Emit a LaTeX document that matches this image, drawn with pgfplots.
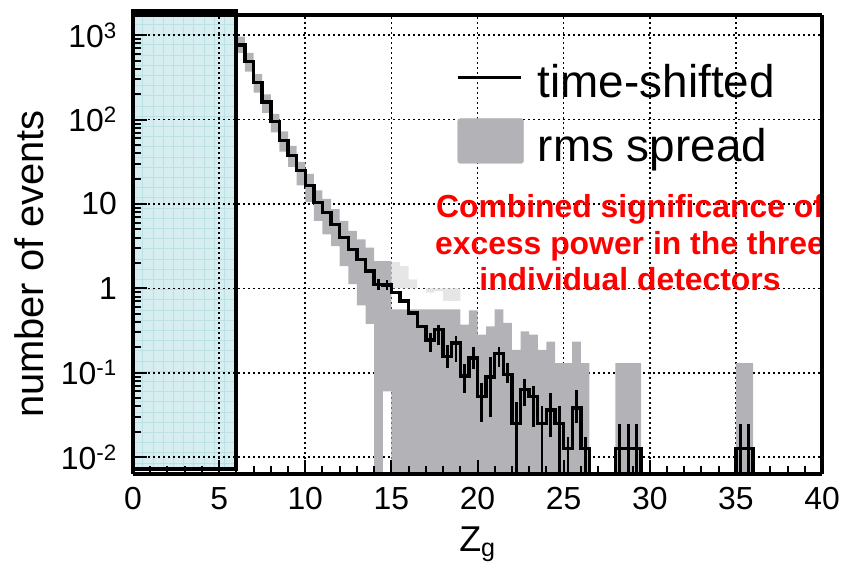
\documentclass[border=0pt]{standalone}
\usepackage{fontspec}
\setmainfont{Liberation Sans}
\usepackage{pgfplots}
\pgfplotsset{compat=1.18}
\usepgfplotslibrary{fillbetween}
\usetikzlibrary{patterns.meta}
\definecolor{BandGrey}{HTML}{B3B2B6}
\definecolor{BandLight}{HTML}{E6E6E6}
\definecolor{BoxCyan}{HTML}{D6EEF0}
\definecolor{BoxLine}{HTML}{BCE0E4}
\definecolor{NoteRed}{HTML}{FF0000}
\pgfplotsset{
  layers/bglayers/.define layer set={axis background,axis grid,pre main,main,axis ticks,axis lines,axis tick labels,axis descriptions,axis foreground}{/pgfplots/layers/standard},
}
\begin{document}
\begin{tikzpicture}
\begin{axis}[
  set layers=bglayers,
  scale only axis, width=689bp, height=459bp,
  ymode=log,
  xmin=0, xmax=40, ymin=0.0063, ymax=1740,
  clip=false,
  xtick={0,5,...,40},
  xticklabels={0,5,10,15,20,25,30,35,40},
  minor x tick num=4,
  ytick={0.01,0.1,1,10,100,1000},
  yticklabels={10\textsuperscript{-2},10\textsuperscript{-1},1,10,10\textsuperscript{2},10\textsuperscript{3}},
  tick align=inside, xtick pos=left, ytick pos=left,
  major tick length=14bp, minor tick length=8bp,
  tick style={black, line width=2bp},
  separate axis lines,
  every outer x axis line/.append style={line width=3.4bp},
  every outer y axis line/.append style={line width=3.4bp},
  grid=major,
  grid style={black, line width=1.7bp, dash pattern=on 1.7bp off 3.3bp},
  tick label style={font=\fontsize{32}{36}\selectfont, inner sep=0pt},
  xticklabel style={anchor=north, yshift=-13bp},
  yticklabel style={anchor=east, xshift=-16bp},
  xlabel={Z\textsubscript{g}},
  xlabel style={at={(rel axis cs:0.5,-0.1699)}, anchor=base, inner sep=0pt, font=\fontsize{36}{40}\selectfont},
  ylabel={number of events},
  ylabel style={at={(rel axis cs:-0.1302,0.4575)}, anchor=base, inner sep=0pt, font=\fontsize{40}{44}\selectfont},
  legend style={at={(rel axis cs:0.4688,0.8924)}, anchor=north west, draw=none, fill=none,
    inner sep=0pt, row sep=19bp, column sep=14bp, font=\fontsize{46}{50}\selectfont, nodes={inner sep=0pt}},
  legend cell align=left,
]
% legend
\addlegendimage{legend image code/.code={\draw[black,line width=3bp] (0bp,4.5bp) -- (63bp,4.5bp);}}
\addlegendentry{time-shifted}
\addlegendimage{legend image code/.code={\fill[BandGrey,rounded corners=3bp] (0bp,-17.65bp) rectangle (66bp,27.35bp);}}
\addlegendentry{rms spread}

% excluded region Z_g < 6: fill under the grid, frame above it
\addplot[draw=none, preaction={fill=BoxCyan},
  pattern={Hatch[distance=10.2bp, line width=0.9bp]}, pattern color=BoxLine,
  on layer=axis background, forget plot]
  coordinates {(0,0.0072) (0,1950) (6,1950) (6,0.0072)} -- cycle;
\addplot[draw=black, line width=4bp, forget plot]
  coordinates {(0,0.0072) (0,1950) (6,1950) (6,0.0072)} -- cycle;

% rms spread band
\addplot[name path=up, draw=none, const plot mark left, forget plot] coordinates {
  (6,966) (6.5,617) (7,347) (7.5,200) (8,117) (8.5,72.4) (9,49) (9.5,31.6) (10,22.7)
  (10.5,14.5) (11,11.5) (11.5,8.7) (12,6.3) (12.5,4.8) (13,3.8) (13.5,3.05) (14,2.11)
  (15,0.562) (19,0.372) (19.5,0.55) (20,0.282) (20.5,0.355) (21,0.562) (21.5,0.389)
  (22,0.186) (22.5,0.309) (23,0.282) (23.5,0.186) (24,0.234) (24.5,0.13) (25.5,0.234)
  (26,0.13) (26.5,0.0063) (28,0.13) (29.5,0.0063) (35,0.13) (36,0.0063)};
\addplot[name path=lo, draw=none, const plot mark left, forget plot] coordinates {
  (6,617) (6.5,372) (7,209) (7.5,120) (8,70.8) (8.5,41.7) (9,27.5) (9.5,16.6) (10,10.5)
  (10.5,6.3) (11,4.37) (11.5,3.16) (12,1.84) (12.5,1.12) (13,0.63) (13.5,0.38)
  (14,0.0063) (14.5,0.06) (15,0.0063) (36,0.0063)};
\addplot[fill=BandLight, draw=none, const plot mark left, on layer=pre main, forget plot] coordinates {
  (15,2.04) (15.5,1.84) (16,1.28) (16.5,1.0) (17,0.89) (17.5,0.93) (18,0.71) (19,0.71)} \closedcycle;
\addplot[fill=BandGrey, draw=none, forget plot] fill between[of=up and lo];

% time-shifted histogram
\addplot[black, line width=3.4bp, const plot mark left, forget plot] coordinates {
  (6,767) (6.5,486) (7,275) (7.5,162) (8,95.5) (8.5,56.2) (9,37.6) (9.5,24.9) (10,16.5)
  (10.5,10.5) (11,7.94) (11.5,5.75) (12,3.98) (12.5,2.91) (13,2.21) (13.5,1.61) (14,1.12)
  (14.5,1.09) (15,0.89) (15.5,0.71) (16,0.51) (16.5,0.355) (17,0.245) (17.5,0.324)
  (18,0.155) (18.5,0.224) (19,0.091) (19.5,0.15) (20,0.052) (20.5,0.089) (21,0.17)
  (21.5,0.095) (22,0.025) (22.5,0.063) (23,0.052) (23.5,0.025) (24,0.036) (24.5,0.025)
  (25,0.0126) (25.5,0.038) (26,0.0126) (26.5,0.0063) (28,0.0127) (29.5,0.0063)
  (35,0.0127) (36,0.0063) (40,0.0063)};
% its error bars
\addplot[black, line width=2.8bp, unbounded coords=jump, forget plot] coordinates {
  (14.25,0.96) (14.25,1.3) (14.25,nan)
  (14.75,0.95) (14.75,1.25) (14.75,nan)
  (17.25,0.178) (17.25,0.295) (17.25,nan)
  (17.75,0.214) (17.75,0.372) (17.75,nan)
  (18.25,0.115) (18.25,0.214) (18.25,nan)
  (18.75,0.135) (18.75,0.27) (18.75,nan)
  (19.25,0.0575) (19.25,0.126) (19.25,nan)
  (19.75,0.11) (19.75,0.2) (19.75,nan)
  (20.25,0.0263) (20.25,0.0759) (20.25,nan)
  (20.75,0.030) (20.75,0.155) (20.75,nan)
  (21.25,0.117) (21.25,0.204) (21.25,nan)
  (21.75,0.0759) (21.75,0.132) (21.75,nan)
  (22.25,0.0063) (22.25,0.0447) (22.25,nan)
  (22.75,0.0398) (22.75,0.0832) (22.75,nan)
  (23.25,0.0229) (23.25,0.0692) (23.25,nan)
  (23.75,0.0063) (23.75,0.0398) (23.75,nan)
  (24.25,0.0174) (24.25,0.0575) (24.25,nan)
  (24.75,0.0063) (24.75,0.0398) (24.75,nan)
  (25.25,0.0063) (25.25,0.0174) (25.25,nan)
  (25.75,0.0251) (25.75,0.063) (25.75,nan)
  (26.25,0.0063) (26.25,0.0174) (26.25,nan)
  (28.25,0.0063) (28.25,0.0245) (28.25,nan)
  (28.75,0.0063) (28.75,0.0245) (28.75,nan)
  (29.25,0.0063) (29.25,0.0245) (29.25,nan)
  (35.25,0.0063) (35.25,0.0245) (35.25,nan)
  (35.75,0.0063) (35.75,0.0245)};

\node[anchor=north, align=center, inner sep=0pt, text=NoteRed,
  font=\fontsize{32}{36.7}\selectfont\bfseries] at (rel axis cs:0.7213,0.609)
  {Combined significance of\\excess power in the three\\individual detectors};
\end{axis}
\pgfresetboundingbox
\path (-133bp,-91bp) rectangle (713bp,474bp);
\end{tikzpicture}
\end{document}
